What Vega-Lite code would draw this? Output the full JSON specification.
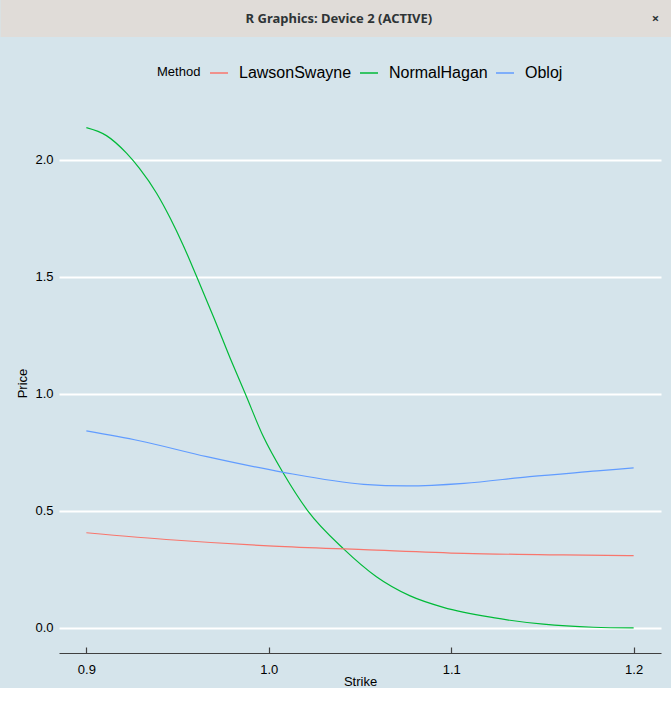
{
  "$schema": "https://vega.github.io/schema/vega-lite/v6.json",
  "background": "#d5e4eb",
  "padding": 0,
  "spacing": 26,
  "resolve": {"legend": {"color": "independent"}, "scale": {"color": "independent", "x": "independent", "y": "independent"}},
  "config": {
    "font": "Liberation Sans",
    "view": {"stroke": null},
    "axis": {"labelColor": "#000000", "titleColor": "#000000"},
    "legend": {"layout": {"top": {"anchor": "middle"}}, "labelColor": "#000000", "titleColor": "#000000"}
  },
  "vconcat": [
    {
      "width": 615.4,
      "height": 37,
      "view": {"stroke": null},
      "layer": [
        {
          "data": {"values": [{"bar": "titlebar", "from": -0.095, "to": 1.0}]},
          "mark": {"type": "rect", "color": "#e0dcd8", "clip": false},
          "encoding": {
            "x": {"field": "from", "type": "quantitative", "scale": {"domain": [0, 1], "nice": false, "zero": false}, "axis": null},
            "x2": {"field": "to"}
          }
        },
        {
          "data": {"values": [
            {"label": "R Graphics: Device 2 (ACTIVE)", "pos": 0.4548},
            {"label": "×", "pos": 0.9691}
          ]},
          "mark": {"type": "text", "fontWeight": "bold", "fontSize": 13, "font": "Noto Sans", "color": "#2e3436", "baseline": "middle"},
          "encoding": {
            "x": {"field": "pos", "type": "quantitative", "scale": {"domain": [0, 1], "nice": false, "zero": false}, "axis": null},
            "text": {"field": "label"}
          }
        }
      ]
    },
    {
      "width": 602,
      "height": 551,
      "data": {"values": [
        {"Method": "NormalHagan", "Strike": 0.900, "Price": 2.138},
        {"Method": "NormalHagan", "Strike": 0.911, "Price": 2.104},
        {"Method": "NormalHagan", "Strike": 0.922, "Price": 2.029},
        {"Method": "NormalHagan", "Strike": 0.929, "Price": 1.965},
        {"Method": "NormalHagan", "Strike": 0.9385, "Price": 1.858},
        {"Method": "NormalHagan", "Strike": 0.946, "Price": 1.751},
        {"Method": "NormalHagan", "Strike": 0.953, "Price": 1.637},
        {"Method": "NormalHagan", "Strike": 0.9605, "Price": 1.501},
        {"Method": "NormalHagan", "Strike": 0.970, "Price": 1.324},
        {"Method": "NormalHagan", "Strike": 0.980, "Price": 1.131},
        {"Method": "NormalHagan", "Strike": 0.987, "Price": 1.003},
        {"Method": "NormalHagan", "Strike": 0.997, "Price": 0.818},
        {"Method": "NormalHagan", "Strike": 1.008, "Price": 0.661},
        {"Method": "NormalHagan", "Strike": 1.0217, "Price": 0.497},
        {"Method": "NormalHagan", "Strike": 1.041, "Price": 0.338},
        {"Method": "NormalHagan", "Strike": 1.059, "Price": 0.219},
        {"Method": "NormalHagan", "Strike": 1.0775, "Price": 0.137},
        {"Method": "NormalHagan", "Strike": 1.0957, "Price": 0.088},
        {"Method": "NormalHagan", "Strike": 1.123, "Price": 0.044},
        {"Method": "NormalHagan", "Strike": 1.1505, "Price": 0.016},
        {"Method": "NormalHagan", "Strike": 1.178, "Price": 0.003},
        {"Method": "NormalHagan", "Strike": 1.200, "Price": 0.000},
        {"Method": "Obloj", "Strike": 0.900, "Price": 0.842},
        {"Method": "Obloj", "Strike": 0.929, "Price": 0.800},
        {"Method": "Obloj", "Strike": 0.966, "Price": 0.732},
        {"Method": "Obloj", "Strike": 1.008, "Price": 0.665},
        {"Method": "Obloj", "Strike": 1.052, "Price": 0.614},
        {"Method": "Obloj", "Strike": 1.0756, "Price": 0.607},
        {"Method": "Obloj", "Strike": 1.107, "Price": 0.618},
        {"Method": "Obloj", "Strike": 1.143, "Price": 0.647},
        {"Method": "Obloj", "Strike": 1.180, "Price": 0.671},
        {"Method": "Obloj", "Strike": 1.200, "Price": 0.684},
        {"Method": "LawsonSwayne", "Strike": 0.900, "Price": 0.407},
        {"Method": "LawsonSwayne", "Strike": 0.948, "Price": 0.376},
        {"Method": "LawsonSwayne", "Strike": 1.0025, "Price": 0.350},
        {"Method": "LawsonSwayne", "Strike": 1.052, "Price": 0.335},
        {"Method": "LawsonSwayne", "Strike": 1.107, "Price": 0.319},
        {"Method": "LawsonSwayne", "Strike": 1.1615, "Price": 0.312},
        {"Method": "LawsonSwayne", "Strike": 1.200, "Price": 0.309}
      ]},
      "mark": {"type": "line", "strokeWidth": 1.2, "interpolate": "monotone"},
      "encoding": {
        "x": {
          "field": "Strike", "type": "quantitative",
          "scale": {"domain": [0.885, 1.215], "nice": false, "zero": false},
          "axis": {
            "values": [0.9, 1.0, 1.1, 1.2], "format": ".1f", "grid": false,
            "domain": true, "domainColor": "#404040", "domainWidth": 1.2,
            "ticks": true, "tickSize": -6, "tickColor": "#404040", "tickWidth": 1.2,
            "labelPadding": 16, "labelFontSize": 13, "labelFlush": false,
            "title": "Strike", "titleFontSize": 13, "titleFontWeight": "normal", "titlePadding": -1
          }
        },
        "y": {
          "field": "Price", "type": "quantitative",
          "scale": {"domain": [-0.107, 2.2477], "nice": false, "zero": false},
          "axis": {
            "values": [0, 0.5, 1, 1.5, 2], "format": ".1f",
            "grid": true, "gridColor": "#ffffff", "gridWidth": 2,
            "domain": false, "ticks": false, "labelPadding": 6, "labelFontSize": 13,
            "title": ["", "Price"], "titleLineHeight": 10, "titleFontSize": 13, "titleFontWeight": "normal", "titlePadding": 5,
            "titleY": 281
          }
        },
        "color": {
          "field": "Method", "type": "nominal",
          "scale": {"domain": ["LawsonSwayne", "NormalHagan", "Obloj"], "range": ["#F8766D", "#00BA38", "#619CFF"]},
          "legend": {
            "orient": "top", "direction": "horizontal", "titleOrient": "left",
            "title": "Method", "titleFontSize": 13, "titleFontWeight": "normal",
            "labelFontSize": 16, "symbolType": "stroke", "symbolSize": 324, "symbolStrokeWidth": 1.5,
            "labelOffset": 10, "columnPadding": 5, "titlePadding": 8, "offset": 21
          }
        }
      }
    }
  ]
}
